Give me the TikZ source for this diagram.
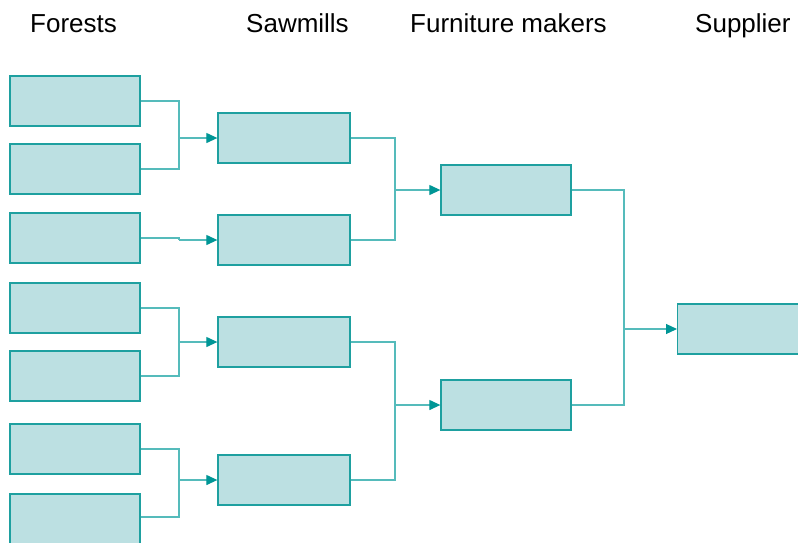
\documentclass[tikz,border=0pt]{standalone}
\usepackage{fontspec}
\setmainfont{Liberation Sans}
\usetikzlibrary{arrows.meta}
\definecolor{boxfill}{RGB}{188,224,226}
\definecolor{boxline}{RGB}{30,160,160}
\definecolor{conn}{RGB}{85,187,187}
\definecolor{tipcol}{RGB}{0,150,150}
\begin{document}
\begin{tikzpicture}[x=1pt,y=-1pt,
  card/.style={draw=boxline, fill=boxfill, line width=1.3pt, rectangle, inner sep=0pt, minimum width=130pt, minimum height=50pt},
  wide/.style={card, minimum width=132pt},
  link/.style={draw=conn, line width=1.2pt},
  feed/.style={link, -{Triangle[length=11pt,width=10pt,color=tipcol]}},
  title/.style={anchor=base west, inner sep=0pt, font=\fontsize{26}{30}\selectfont}]
\useasboundingbox (0,0) rectangle (798,542);
\node[title] (tf) at (30,32) {Forests};
\node[title] (ts) at (246,32) {Sawmills};
\node[title] (tm) at (410,32) {Furniture makers};
\node[title] (tp) at (695,32) {Supplier};
% forests
\node[card] (f1) at (75,101) {};
\node[card] (f2) at (75,169) {};
\node[card] (f3) at (75,238) {};
\node[card] (f4) at (75,308) {};
\node[card] (f5) at (75,376) {};
\node[card] (f6) at (75,449) {};
\node[card] (f7) at (75,519) {};
% sawmills
\node[wide] (s1) at (284,138) {};
\node[wide] (s2) at (284,240) {};
\node[wide] (s3) at (284,342) {};
\node[wide] (s4) at (284,480) {};
% furniture makers
\node[card] (m1) at (506,190) {};
\node[card] (m2) at (506,405) {};
% supplier
\node[card, minimum width=150pt, anchor=west] (p1) at (677,329) {};
% junctions
\coordinate (j1) at (179,138);
\coordinate (j2) at (179,240);
\coordinate (j3) at (179,342);
\coordinate (j4) at (179,480);
\coordinate (k1) at (395,190);
\coordinate (k2) at (395,405);
\coordinate (l1) at (624,329);
% forest -> sawmill
\draw[link] (f1.east) -| (j1);
\draw[link] (f2.east) -| (j1);
\draw[feed] (j1) -- (s1.west);
\draw[link] (f3.east) -| (j2);
\draw[feed] (j2) -- (s2.west);
\draw[link] (f4.east) -| (j3);
\draw[link] (f5.east) -| (j3);
\draw[feed] (j3) -- (s3.west);
\draw[link] (f6.east) -| (j4);
\draw[link] (f7.east |- 517,517) -| (j4);
\draw[feed] (j4) -- (s4.west);
% sawmill -> furniture
\draw[link] (s1.east) -| (k1);
\draw[link] (s2.east) -| (k1);
\draw[feed] (k1) -- (m1.west);
\draw[link] (s3.east) -| (k2);
\draw[link] (s4.east) -| (k2);
\draw[feed] (k2) -- (m2.west);
% furniture -> supplier
\draw[link] (m1.east) -| (l1);
\draw[link] (m2.east) -| (l1);
\draw[feed] (l1) -- (p1.west);
\end{tikzpicture}
\end{document}
